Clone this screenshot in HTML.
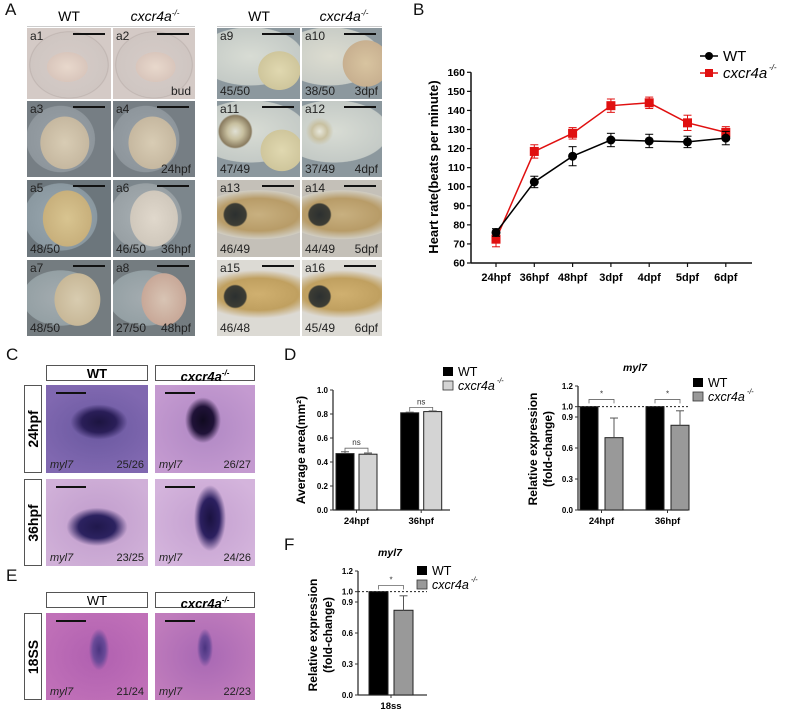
<!DOCTYPE html>
<html><head><meta charset="utf-8">
<style>
body{margin:0;width:797px;height:713px;background:#fff;position:relative;overflow:hidden;font-family:"Liberation Sans",Arial,sans-serif}
.abs{position:absolute}
.lbl{position:absolute;font-size:17px;color:#111}
.hd{position:absolute;font-size:14px;text-align:center;width:84px}
.tile{position:absolute;overflow:hidden}
.tile .id{position:absolute;left:3px;top:1px;font-size:12px;color:#222}
.tile .bar{position:absolute;right:6px;top:5px;width:32px;height:2px;background:#111}
.tile .n{position:absolute;left:3px;bottom:1px;font-size:12px;color:#222}
.tile .st{position:absolute;right:4px;bottom:1px;font-size:12px;color:#222}
.box{position:absolute;border:1px solid #555;background:#fff;font-size:13px;text-align:center;box-sizing:border-box}
.ish{position:absolute;overflow:hidden}
.ish .g{position:absolute;left:4px;bottom:2px;font-size:11px;font-style:italic;color:#222}
.ish .c{position:absolute;right:4px;bottom:2px;font-size:11px;color:#222}
.ish .sb{position:absolute;left:10px;top:7px;width:30px;height:2px;background:#111}
svg text{font-family:"Liberation Sans",Arial,sans-serif}
</style></head><body>
<div class="lbl" style="left:5px;top:0px">A</div>
<div class="lbl" style="left:413px;top:0px">B</div>
<div class="lbl" style="left:6px;top:345px">C</div>
<div class="lbl" style="left:284px;top:345px">D</div>
<div class="lbl" style="left:6px;top:566px">E</div>
<div class="lbl" style="left:284px;top:535px">F</div>

<div class="hd" style="left:27px;top:8px">WT</div>
<div class="hd" style="left:113px;top:8px;font-style:italic">cxcr4a<sup style="font-size:8px">-/-</sup></div>
<div class="hd" style="left:217px;top:8px">WT</div>
<div class="hd" style="left:302px;top:8px;font-style:italic">cxcr4a<sup style="font-size:8px">-/-</sup></div>
<div class="abs" style="left:27px;top:26px;width:168px;height:1px;background:#ccc"></div>
<div class="abs" style="left:217px;top:26px;width:165px;height:1px;background:#ccc"></div>

<div id="tiles"></div>

<div id="cpanel"></div>

<svg id="chartB" class="abs" style="left:0;top:0" width="797" height="713"></svg>

<script>
const tileCols=[[27,84],[113,82],[217,83],[302,80]];
const tileRows=[[28,71],[101,76],[180,77],[260,76]];
const tileInfo=[
 ['a1','','', 'radial-gradient(ellipse 30% 26% at 48% 55%,#e8d8cc 0,#d9c6bc 80%,transparent 82%),radial-gradient(ellipse 48% 48% at 50% 52%,#d6ccc8 0,#cfc6c2 95%,#bfb4b0 97%,#d4cac6 100%)'],
 ['a2','','bud','radial-gradient(ellipse 30% 26% at 52% 55%,#e8d8cc 0,#d9c6bc 80%,transparent 82%),radial-gradient(ellipse 48% 48% at 50% 52%,#d6ccc8 0,#cfc6c2 95%,#bfb4b0 97%,#d4cac6 100%)'],
 ['a9','45/50','','radial-gradient(ellipse 28% 30% at 75% 60%,#e0d8b0 0,#cfc69c 90%,transparent 92%),radial-gradient(ellipse 70% 45% at 40% 40%,#d8dcd4 0,#c4cac6 90%,transparent 92%),#8c989e'],
 ['a10','38/50','3dpf','radial-gradient(ellipse 32% 36% at 80% 50%,#d8c4a0 0,#c8b090 90%,transparent 92%),radial-gradient(ellipse 70% 45% at 35% 40%,#dcdcd0 0,#c8ccc6 90%,transparent 92%),#8c989e'],
 ['a3','','','radial-gradient(ellipse 32% 38% at 45% 55%,#d8ccb4 0,#c6b8a0 90%,transparent 92%),radial-gradient(ellipse 45% 48% at 40% 50%,#9aa2a8 0,#8e969c 90%,transparent 92%),#767e84'],
 ['a4','','24hpf','radial-gradient(ellipse 32% 38% at 48% 55%,#d8ccb4 0,#c6b8a0 90%,transparent 92%),radial-gradient(ellipse 45% 48% at 40% 50%,#9aa2a8 0,#8e969c 90%,transparent 92%),#767e84'],
 ['a11','47/49','','radial-gradient(circle at 22% 40%,#e0e0d4 0,#c8c0a0 10%,#8a7c60 20%,transparent 22%),radial-gradient(ellipse 28% 30% at 78% 65%,#e0d8b0 0,#cfc69c 90%,transparent 92%),radial-gradient(ellipse 75% 45% at 40% 40%,#d8dcd4 0,#c4cac6 90%,transparent 92%),#8c989e'],
 ['a12','37/49','4dpf','radial-gradient(circle at 22% 40%,#e8e8dc 0,#c8c0a0 10%,transparent 18%),radial-gradient(ellipse 75% 45% at 40% 40%,#d8dcd4 0,#c4cac6 90%,transparent 92%),#8c989e'],
 ['a5','48/50','','radial-gradient(ellipse 32% 40% at 48% 50%,#d8c490 0,#c8b07c 90%,transparent 92%),radial-gradient(ellipse 48% 48% at 40% 48%,#9aa8b0 0,#8a98a0 90%,transparent 92%),#6c767c'],
 ['a6','46/50','36hpf','radial-gradient(ellipse 32% 40% at 50% 50%,#e0d8cc 0,#d0c8bc 90%,transparent 92%),radial-gradient(ellipse 48% 48% at 40% 48%,#a8b0b4 0,#98a0a4 90%,transparent 92%),#7c868c'],
 ['a13','46/49','','radial-gradient(circle at 22% 45%,#2c3030 0,#3c3c34 14%,transparent 16%),radial-gradient(ellipse 80% 35% at 50% 45%,#c8b080 0,#b89c68 60%,#d0ccc0 90%,transparent 92%),#c4c0b8'],
 ['a14','44/49','5dpf','radial-gradient(circle at 22% 45%,#2c3030 0,#3c3c34 14%,transparent 16%),radial-gradient(ellipse 80% 35% at 50% 45%,#c8b080 0,#b89c68 60%,#d0ccc0 90%,transparent 92%),#c4c0b8'],
 ['a7','48/50','','radial-gradient(ellipse 30% 38% at 60% 52%,#d8ccb0 0,#c8b898 90%,transparent 92%),radial-gradient(ellipse 50% 40% at 40% 50%,#a4acb0 0,#94a0a4 90%,transparent 92%),#747c80'],
 ['a8','27/50','48hpf','radial-gradient(ellipse 30% 38% at 62% 52%,#d8c4b4 0,#c8a898 90%,transparent 92%),radial-gradient(ellipse 50% 40% at 40% 50%,#a4acb0 0,#94a0a4 90%,transparent 92%),#747c80'],
 ['a15','46/48','','radial-gradient(circle at 22% 48%,#2c3030 0,#3c3c34 14%,transparent 16%),radial-gradient(ellipse 80% 35% at 50% 45%,#d0b070 0,#c0a060 60%,#dcd8d0 90%,transparent 92%),#dcdad4'],
 ['a16','45/49','6dpf','radial-gradient(circle at 22% 48%,#2c3030 0,#3c3c34 14%,transparent 16%),radial-gradient(ellipse 80% 35% at 50% 45%,#d0b070 0,#c0a060 60%,#dcd8d0 90%,transparent 92%),#dcdad4']
];
const tc=document.getElementById('tiles');
tileInfo.forEach((t,i)=>{
  const r=Math.floor(i/4), c=i%4;
  const d=document.createElement('div');
  d.className='tile';
  
  
  d.style.left=tileCols[c][0]+'px';d.style.top=tileRows[r][0]+'px';
  d.style.width=tileCols[c][1]+'px';d.style.height=tileRows[r][1]+'px';
  d.style.background=t[3];
  d.innerHTML='<span class="id">'+t[0]+'</span><span class="bar"></span>'+(t[1]?'<span class="n">'+t[1]+'</span>':'')+(t[2]?'<span class="st">'+t[2]+'</span>':'');
  tc.appendChild(d);
});

const cp=document.getElementById('cpanel');
function box(x,y,w,h,html,name,rot){
  const b=document.createElement('div');b.className='box';
  
  
  b.style.cssText+='left:'+x+'px;top:'+y+'px;width:'+w+'px;height:'+h+'px;line-height:'+(rot?w:h)+'px;';
  if(rot){b.innerHTML='<div style="position:absolute;left:50%;top:50%;transform:translate(-50%,-50%) rotate(-90deg);white-space:nowrap;font-weight:bold;font-size:14px;line-height:16px">'+html+'</div>';}
  else b.innerHTML=html;
  cp.appendChild(b);
}
const mut='<i style="font-weight:bold">cxcr4a<sup style="font-size:8px">-/-</sup></i>';
box(46,365,102,16,'<b>WT</b>','c-header-wt');
box(155,365,100,16,mut,'c-header-mutant');
box(24,385,18,88,'24hpf','c-row-24hpf',1);
box(24,479,18,87,'36hpf','c-row-36hpf',1);
box(46,592,102,16,'WT','e-header-wt');
box(155,592,100,16,mut,'e-header-mutant');
box(24,613,18,87,'18SS','e-row-18ss',1);
const ish=[
 [46,385,102,88,'25/26','radial-gradient(ellipse 28% 20% at 52% 42%,#1c1440 0,#2a1e58 60%,transparent 100%),radial-gradient(ellipse 60% 50% at 50% 50%,#6a58a0,#8068b0 100%)'],
 [155,385,100,88,'26/27','radial-gradient(ellipse 18% 26% at 48% 40%,#100a20 0,#201238 60%,transparent 100%),radial-gradient(ellipse 60% 60% at 50% 50%,#b088c4,#c49ad0 100%)'],
 [46,479,102,87,'23/25','radial-gradient(ellipse 30% 22% at 50% 55%,#20184c 0,#2c2260 60%,transparent 100%),radial-gradient(ellipse 60% 60% at 50% 50%,#c09ccc,#d0b0d8 100%)'],
 [155,479,100,87,'24/26','radial-gradient(ellipse 16% 38% at 55% 45%,#1a1240 0,#2c2060 60%,transparent 100%),radial-gradient(ellipse 60% 60% at 50% 50%,#c4a0d0,#d4b4dc 100%)'],
 [46,613,102,87,'21/24','radial-gradient(ellipse 10% 24% at 52% 42%,#4a3480 0,#6a4a98 60%,transparent 100%),radial-gradient(ellipse 60% 60% at 50% 50%,#b060b0,#c070b8 100%)'],
 [155,613,100,87,'22/23','radial-gradient(ellipse 8% 22% at 50% 40%,#4a3480 0,#6a4a98 60%,transparent 100%),radial-gradient(ellipse 60% 60% at 50% 50%,#a868b4,#c07cbc 100%)']
];
ish.forEach((s,i)=>{
  const d=document.createElement('div');d.className='ish';
  
  
  d.style.cssText='left:'+s[0]+'px;top:'+s[1]+'px;width:'+s[2]+'px;height:'+s[3]+'px;background:'+s[5];
  d.innerHTML='<span class="sb"></span><span class="g">myl7</span><span class="c">'+s[4]+'</span>';
  cp.appendChild(d);
});
</script>

<script>
const bCats=['24hpf','36hpf','48hpf','3dpf','4dpf','5dpf','6dpf'];
const bWT=[76,102.5,116,124.5,124,123.5,125.5];
const bWTerr=[2,3,5,3.5,3.5,3,3.5];
const bMut=[72.5,118.5,128,142.5,144,133.5,128.5];
const bMutErr=[4,3.5,3,3.5,3,4,3];
const bTicks=[60,70,80,90,100,110,120,130,140,150,160];

const dCats=['24hpf','36hpf'];
const dAreaWT=[0.47,0.81];
const dAreaWTerr=[0.015,0.005];
const dAreaMut=[0.465,0.82];
const dAreaMutErr=[0.01,0.005];
const dAreaTicks=[0.0,0.2,0.4,0.6,0.8,1.0];

const dExpWT=[1.0,1.0];
const dExpMut=[0.70,0.82];
const dExpMutErr=[0.19,0.14];
const expTicks=[0.0,0.3,0.6,0.9,1.0,1.2];

const fCats=['18ss'];
const fWT=[1.0];
const fMut=[0.82];
const fMutErr=[0.14];

const S='http://www.w3.org/2000/svg';
const svg=document.getElementById('chartB');
function el(tag,attrs,name,parent){
  const e=document.createElementNS(S,tag);
  for(const k in attrs)e.setAttribute(k,attrs[k]);
  
  
  (parent||svg).appendChild(e);return e;
}
function txt(x,y,s,attrs,name){const t=el('text',Object.assign({x:x,y:y},attrs),name);t.textContent=s;return t;}

const bx0=471,bx1=752,by0=263,by1=72.3,bMin=60,bMax=160;
const bY=v=>by0-(v-bMin)/(bMax-bMin)*(by0-by1);
const bX=i=>496+i*38.3;
el('line',{x1:bx0,y1:by0,x2:bx1,y2:by0,stroke:'#111','stroke-width':1.5},'b-x-axis');
el('line',{x1:bx0,y1:by0,x2:bx0,y2:by1,stroke:'#111','stroke-width':1.5},'b-y-axis');
bTicks.forEach(v=>{
  el('line',{x1:bx0-4,y1:bY(v),x2:bx0,y2:bY(v),stroke:'#111','stroke-width':1.2},'b-y-tick');
  txt(bx0-6,bY(v)+3.5,v,{'font-size':10.5,'font-weight':'bold','text-anchor':'end'},'b-y-tick-label');
});
bCats.forEach((c,i)=>{
  el('line',{x1:bX(i),y1:by0,x2:bX(i),y2:by0+4,stroke:'#111','stroke-width':1.2},'b-x-tick');
  txt(bX(i),by0+18,c,{'font-size':11,'font-weight':'bold','text-anchor':'middle'},'b-x-tick-label');
});
txt(0,0,'Heart rate(beats per minute)',{'font-size':13,'font-weight':'bold','text-anchor':'middle',transform:'translate(438,167) rotate(-90)'},'b-y-axis-title');
function series(vals,errs,color,shape,name){
  el('polyline',{points:vals.map((v,i)=>bX(i)+','+bY(v)).join(' '),fill:'none',stroke:color,'stroke-width':1.5},name+'-line');
  vals.forEach((v,i)=>{
    const x=bX(i);
    el('line',{x1:x,y1:bY(v-errs[i]),x2:x,y2:bY(v+errs[i]),stroke:color,'stroke-width':1},name+'-errorbar');
    el('line',{x1:x-4,y1:bY(v+errs[i]),x2:x+4,y2:bY(v+errs[i]),stroke:color,'stroke-width':1},name+'-errorcap');
    el('line',{x1:x-4,y1:bY(v-errs[i]),x2:x+4,y2:bY(v-errs[i]),stroke:color,'stroke-width':1},name+'-errorcap');
    if(shape==='c')el('circle',{cx:x,cy:bY(v),r:4.5,fill:color},name+'-point');
    else el('rect',{x:x-4.5,y:bY(v)-4.5,width:9,height:9,fill:color},name+'-point');
  });
}
series(bMut,bMutErr,'#e01010','s','b-mutant');
series(bWT,bWTerr,'#000','c','b-wt');
el('line',{x1:700,y1:56,x2:718,y2:56,stroke:'#000','stroke-width':1.5},'b-legend-wt-line');
el('circle',{cx:709,cy:56,r:4,fill:'#000'},'b-legend-wt-marker');
txt(723,61,'WT',{'font-size':15},'b-legend-wt-label');
el('line',{x1:700,y1:73,x2:718,y2:73,stroke:'#e01010','stroke-width':1.5},'b-legend-mutant-line');
el('rect',{x:705,y:69,width:8,height:8,fill:'#e01010'},'b-legend-mutant-marker');
txt(723,78,'cxcr4a',{'font-size':15,'font-style':'italic'},'b-legend-mutant-label');
txt(769,70,'-/-',{'font-size':8,'font-style':'italic'},'b-legend-mutant-sup');

function barChart(o){
  const Y=v=>o.y0-(v-0)/(o.max)*(o.y0-o.y1);
  el('line',{x1:o.ax,y1:o.y0,x2:o.axEnd,y2:o.y0,stroke:'#333','stroke-width':1.3},o.n+'-x-axis');
  el('line',{x1:o.ax,y1:o.y0,x2:o.ax,y2:Y(o.max),stroke:'#333','stroke-width':1.3},o.n+'-y-axis');
  o.ticks.forEach(v=>{
    el('line',{x1:o.ax-3,y1:Y(v),x2:o.ax,y2:Y(v),stroke:'#333','stroke-width':1},o.n+'-y-tick');
    txt(o.ax-5,Y(v)+3,v.toFixed(1),{'font-size':8,'font-weight':'bold','text-anchor':'end'},o.n+'-y-tick-label');
  });
  if(o.dotted)el('line',{x1:o.ax,y1:Y(1),x2:o.axEnd,y2:Y(1),stroke:'#222','stroke-width':1,'stroke-dasharray':'2,2'},o.n+'-reference-line');
  o.cats.forEach((c,i)=>{
    const g=o.g0+i*o.gs;
    const series=[[o.a,o.aErr,'#000'],[o.b,o.bErr,o.bCol]];
    series.forEach((s,k)=>{
      const x=g+k*(o.bw+o.gap), v=s[0][i], e=s[1]?s[1][i]:0;
      el('rect',{x:x,y:Y(v),width:o.bw,height:o.y0-Y(v),fill:s[2],stroke:'#222','stroke-width':1},o.n+'-bar-'+c+'-'+(k?'mutant':'wt'));
      if(e){
        el('line',{x1:x+o.bw/2,y1:Y(v),x2:x+o.bw/2,y2:Y(v+e),stroke:'#555','stroke-width':1},o.n+'-errorbar');
        el('line',{x1:x+o.bw/2-4,y1:Y(v+e),x2:x+o.bw/2+4,y2:Y(v+e),stroke:'#555','stroke-width':1},o.n+'-errorcap');
      }
    });
    const cx=g+o.bw+o.gap/2;
    el('line',{x1:cx,y1:o.y0,x2:cx,y2:o.y0+3,stroke:'#333'},o.n+'-x-tick');
    txt(cx,o.y0+14,c,{'font-size':9.5,'font-weight':'bold','text-anchor':'middle'},o.n+'-x-tick-label');
    const top=Math.max(o.a[i]+(o.aErr?o.aErr[i]:0),o.b[i]+(o.bErr?o.bErr[i]:0))+o.sigPad;
    const x1=g+o.bw/2,x2=g+o.bw+o.gap+o.bw/2;
    el('polyline',{points:x1+','+(Y(top)+4)+' '+x1+','+Y(top)+' '+x2+','+Y(top)+' '+x2+','+(Y(top)+4),fill:'none',stroke:'#666','stroke-width':0.8},o.n+'-significance-bracket');
    txt((x1+x2)/2,Y(top)-3,o.sig,{'font-size':8,'text-anchor':'middle',fill:'#333'},o.n+'-significance-label');
  });
  el('rect',{x:o.lx,y:o.ly,width:10,height:9,fill:'#000'},o.n+'-legend-wt-swatch');
  txt(o.lx+15,o.ly+9,'WT',{'font-size':12.5},o.n+'-legend-wt-label');
  el('rect',{x:o.lx,y:o.ly+14,width:10,height:9,fill:o.bCol,stroke:'#333','stroke-width':0.8},o.n+'-legend-mutant-swatch');
  txt(o.lx+15,o.ly+23,'cxcr4a',{'font-size':12.5,'font-style':'italic'},o.n+'-legend-mutant-label');
  txt(o.lx+54,o.ly+16,'-/-',{'font-size':7,'font-style':'italic'},o.n+'-legend-mutant-sup');
  return Y;
}
barChart({n:'d-area',cats:dCats,a:dAreaWT,aErr:dAreaWTerr,b:dAreaMut,bErr:dAreaMutErr,bCol:'#d4d4d4',
  ax:333,axEnd:450,y0:510,y1:390,max:1.0,ticks:dAreaTicks,g0:336,gs:64.7,bw:18,gap:5,sig:'ns',sigPad:0.03,lx:443,ly:367});
txt(0,0,'Average area(mm²)',{'font-size':12,'font-weight':'bold','text-anchor':'middle',transform:'translate(305,450) rotate(-90)'},'d-area-y-axis-title');

barChart({n:'d-expression',cats:dCats,a:dExpWT,aErr:null,b:dExpMut,bErr:dExpMutErr,bCol:'#999',
  ax:578,axEnd:688,y0:510,y1:386,max:1.2,ticks:expTicks,g0:580,gs:66,bw:18,gap:7,sig:'*',sigPad:0.07,lx:693,ly:378,dotted:1});
txt(635,371,'myl7',{'font-size':10.5,'font-weight':'bold','font-style':'italic','text-anchor':'middle'},'d-expression-title');
txt(0,0,'Relative expression',{'font-size':12,'font-weight':'bold','text-anchor':'middle',transform:'translate(537,449) rotate(-90)'},'d-expression-y-title-1');
txt(0,0,'(fold-change)',{'font-size':12,'font-weight':'bold','text-anchor':'middle',transform:'translate(552,449) rotate(-90)'},'d-expression-y-title-2');

barChart({n:'f-expression',cats:fCats,a:fWT,aErr:null,b:fMut,bErr:fMutErr,bCol:'#999',
  ax:358,axEnd:427,y0:695,y1:571,max:1.2,ticks:expTicks,g0:369,gs:60,bw:19,gap:6,sig:'*',sigPad:0.06,lx:417,ly:566,dotted:1});
txt(390,556,'myl7',{'font-size':10.5,'font-weight':'bold','font-style':'italic','text-anchor':'middle'},'f-expression-title');
txt(0,0,'Relative expression',{'font-size':12,'font-weight':'bold','text-anchor':'middle',transform:'translate(317,635) rotate(-90)'},'f-expression-y-title-1');
txt(0,0,'(fold-change)',{'font-size':12,'font-weight':'bold','text-anchor':'middle',transform:'translate(332,635) rotate(-90)'},'f-expression-y-title-2');
</script>
</body></html>
